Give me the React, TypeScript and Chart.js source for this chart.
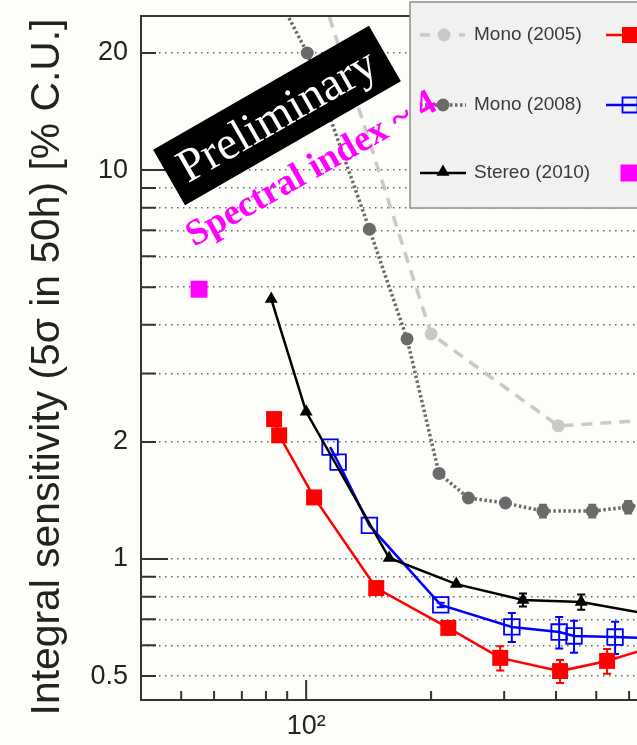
import React, { useEffect, useRef } from "react";
import { Chart, registerables } from "chart.js";

Chart.register(...registerables);

// ---------------- data (energy in GeV, sensitivity in % Crab units) ----------------
const mono2005Energy = [100, 200, 405, 790];
const mono2005Sens = [38, 3.79, 2.2, 2.3];

const mono2008Energy = [80, 100.6, 142, 175, 209, 246, 302, 372, 489, 597, 880];
const mono2008Sens = [32, 20.0, 7.05, 3.68, 1.66, 1.435, 1.393, 1.328, 1.328, 1.36, 1.48];
const mono2008Err = [0, 0, 0, 0, 0, 0, 0, 0.05, 0.05, 0.05, 0.05];

const stereo2010Energy = [82.4, 100, 158.5, 230, 333, 460, 790];
const stereo2010Sens = [4.66, 2.39, 1.006, 0.862, 0.785, 0.775, 0.7];
const stereo2010Err = [0, 0, 0, 0, 0.03, 0.035, 0.03];

const stereoRedEnergy = [83.7, 86.1, 104.5, 147.5, 220, 293.5, 409, 531, 880];
const stereoRedSens = [2.29, 2.08, 1.44, 0.842, 0.665, 0.557, 0.515, 0.547, 0.645];
const stereoRedErr = [0, 0, 0, 0, 0.015, 0.04, 0.035, 0.04, 0.04];

const stereoBlueEnergy = [114.2, 119.4, 142, 211, 313, 407, 442, 555, 840];
const stereoBlueSens = [1.94, 1.775, 1.22, 0.762, 0.669, 0.649, 0.634, 0.63, 0.62];
const stereoBlueErr = [0, 0, 0, 0.01, 0.057, 0.06, 0.06, 0.06, 0.06];

const sumTriggerEnergy = [55.2];
const sumTriggerSens = [4.94];

const yTickValues = [0.5, 0.6, 0.7, 0.8, 0.9, 1, 2, 3, 4, 5, 6, 7, 8, 9, 10, 20];
const yLabelValues = [0.5, 1, 2, 10, 20];
const xTickValues = [50, 60, 70, 80, 90, 100, 200, 300, 400, 500, 600];

const yTitle = "Integral sensitivity (5σ in 50h) [% C.U.]";
const prelimText = "Preliminary";
const spectralText = "Spectral index ~ 4";

const SANS = "'Liberation Sans', Arial, Helvetica, sans-serif";
const SERIF = "'Liberation Serif', 'Times New Roman', serif";

const mk = (xs: number[], ys: number[]) => xs.map((x, i) => ({ x, y: ys[i] }));

function drawMarker(ctx: CanvasRenderingContext2D, style: string, x: number, y: number, size: number, fill: string | null, stroke: string | null, lw: number) {
  ctx.save();
  ctx.setLineDash([]);
  ctx.beginPath();
  if (style === "circle") ctx.arc(x, y, size, 0, Math.PI * 2);
  else if (style === "triangle") {
    ctx.moveTo(x, y - size);
    ctx.lineTo(x + size * 0.866, y + size * 0.5);
    ctx.lineTo(x - size * 0.866, y + size * 0.5);
    ctx.closePath();
  } else ctx.rect(x - size, y - size, size * 2, size * 2);
  if (fill) {
    ctx.fillStyle = fill;
    ctx.fill();
  }
  if (stroke) {
    ctx.strokeStyle = stroke;
    ctx.lineWidth = lw;
    ctx.stroke();
  }
  ctx.restore();
}

const decorPlugin = {
  id: "decor",
  beforeDraw(chart: any) {
    const { ctx, width, height } = chart;
    ctx.save();
    ctx.fillStyle = "#fdfdfa";
    ctx.fillRect(0, 0, width, height);
    ctx.restore();
  },
  beforeDatasetsDraw(chart: any) {
    const { ctx, chartArea } = chart;
    const xs = chart.scales.x;
    const ys = chart.scales.y;
    ctx.save();
    ctx.beginPath();
    ctx.rect(chartArea.left, chartArea.top, chartArea.right - chartArea.left, chartArea.bottom - chartArea.top);
    ctx.clip();
    chart.data.datasets.forEach((ds: any) => {
      const errs = ds.errors as number[] | undefined;
      if (!errs) return;
      ctx.strokeStyle = ds.borderColor;
      ctx.lineWidth = 2;
      ctx.setLineDash([]);
      ds.data.forEach((p: any, j: number) => {
        const e = errs[j];
        if (!e) return;
        const x = xs.getPixelForValue(p.x);
        const y1 = ys.getPixelForValue(p.y + e);
        const y2 = ys.getPixelForValue(p.y - e);
        ctx.beginPath();
        ctx.moveTo(x, y1);
        ctx.lineTo(x, y2);
        ctx.moveTo(x - 4, y1);
        ctx.lineTo(x + 4, y1);
        ctx.moveTo(x - 4, y2);
        ctx.lineTo(x + 4, y2);
        ctx.stroke();
      });
    });
    ctx.restore();
  },
  afterDatasetsDraw(chart: any) {
    const { ctx, chartArea } = chart;
    const xs = chart.scales.x;
    const ys = chart.scales.y;
    const { left, right, top, bottom } = chartArea;

    // frame
    ctx.save();
    ctx.strokeStyle = "#333";
    ctx.lineWidth = 2;
    ctx.setLineDash([]);
    ctx.beginPath();
    ctx.moveTo(right + 2, top);
    ctx.lineTo(left, top);
    ctx.lineTo(left, bottom);
    ctx.lineTo(right + 2, bottom);
    ctx.stroke();
    // inside ticks
    ctx.beginPath();
    yTickValues.forEach((v) => {
      const y = ys.getPixelForValue(v);
      const len = v === 1 || v === 10 ? 27 : 15;
      ctx.moveTo(left, y);
      ctx.lineTo(left + len, y);
    });
    xTickValues.forEach((v) => {
      const x = xs.getPixelForValue(v);
      const len = v === 100 ? 20 : 9;
      ctx.moveTo(x, bottom);
      ctx.lineTo(x, bottom - len);
    });
    ctx.stroke();
    ctx.restore();

    // y title
    ctx.save();
    let fs = 40;
    ctx.font = `${fs}px ${SANS}`;
    fs = (fs * 697) / ctx.measureText(yTitle).width;
    ctx.font = `${fs}px ${SANS}`;
    ctx.translate(48, 367);
    ctx.rotate(-Math.PI / 2);
    ctx.fillStyle = "#222";
    ctx.textAlign = "center";
    ctx.textBaseline = "middle";
    ctx.fillText(yTitle, 0, 0);
    ctx.restore();

    // legend
    const ds = chart.data.datasets;
    ctx.save();
    ctx.fillStyle = "#f1f1f0";
    ctx.fillRect(410, 2, 320, 206);
    ctx.strokeStyle = "#8c8c8c";
    ctx.lineWidth = 1.5;
    ctx.strokeRect(410, 2, 320, 206);
    const rows = [35, 105, 173];
    ctx.font = `19px ${SANS}`;
    ctx.textBaseline = "middle";
    ctx.textAlign = "left";
    for (let i = 0; i < 3; i++) {
      ctx.fillStyle = "#3a3a3a";
      ctx.fillText(ds[i].label, 474, rows[i]);
    }
    // row 1 symbol: light grey dashed
    ctx.strokeStyle = ds[0].borderColor;
    ctx.lineWidth = 3.5;
    ctx.beginPath();
    ctx.moveTo(420, rows[0]);
    ctx.lineTo(430, rows[0]);
    ctx.moveTo(459, rows[0]);
    ctx.lineTo(465, rows[0]);
    ctx.stroke();
    drawMarker(ctx, "circle", 444, rows[0], 6.5, ds[0].backgroundColor, null, 0);
    // row 2: dotted dark grey
    ctx.strokeStyle = ds[1].borderColor;
    ctx.setLineDash([2.5, 2.5]);
    ctx.beginPath();
    ctx.moveTo(420, rows[1]);
    ctx.lineTo(466, rows[1]);
    ctx.stroke();
    ctx.setLineDash([]);
    drawMarker(ctx, "circle", 443, rows[1], 6.5, ds[1].backgroundColor, null, 0);
    // row 3: black triangle
    ctx.strokeStyle = ds[2].borderColor;
    ctx.lineWidth = 2.5;
    ctx.beginPath();
    ctx.moveTo(420, rows[2]);
    ctx.lineTo(466, rows[2]);
    ctx.stroke();
    drawMarker(ctx, "triangle", 443, rows[2] - 1, 7.5, ds[2].backgroundColor, null, 0);
    // column 2
    ctx.strokeStyle = ds[3].borderColor;
    ctx.lineWidth = 2.5;
    ctx.beginPath();
    ctx.moveTo(606, rows[0]);
    ctx.lineTo(625, rows[0]);
    ctx.stroke();
    drawMarker(ctx, "rect", 630, rows[0], 8, ds[3].backgroundColor, null, 0);
    ctx.strokeStyle = ds[4].borderColor;
    ctx.beginPath();
    ctx.moveTo(606, rows[1]);
    ctx.lineTo(640, rows[1]);
    ctx.stroke();
    drawMarker(ctx, "rect", 630, rows[1], 7.5, null, ds[4].borderColor, 1.8);
    drawMarker(ctx, "rect", 629, rows[2], 8.5, ds[5].backgroundColor, null, 0);
    ctx.restore();

    // Preliminary box
    ctx.save();
    ctx.translate(277, 115.5);
    ctx.rotate((-29.9 * Math.PI) / 180);
    ctx.fillStyle = "#000";
    ctx.fillRect(-124.5, -32, 249, 64);
    let pf = 48;
    ctx.font = `${pf}px ${SERIF}`;
    pf = (pf * 222) / ctx.measureText(prelimText).width;
    ctx.font = `${pf}px ${SERIF}`;
    ctx.fillStyle = "#fff";
    ctx.textAlign = "center";
    ctx.textBaseline = "middle";
    ctx.fillText(prelimText, 0, 2);
    ctx.restore();

    // Spectral index annotation
    ctx.save();
    ctx.translate(316.5, 178);
    ctx.rotate((-29.4 * Math.PI) / 180);
    let sf = 36;
    ctx.font = `bold ${sf}px ${SERIF}`;
    sf = (sf * 281) / ctx.measureText(spectralText).width;
    ctx.font = `bold ${sf}px ${SERIF}`;
    ctx.fillStyle = "#ff00ff";
    ctx.textAlign = "center";
    ctx.textBaseline = "alphabetic";
    ctx.fillText(spectralText, 0, 0);
    ctx.restore();
  },
};

export default function App() {
  const ref = useRef<HTMLCanvasElement>(null);
  useEffect(() => {
    document.body.style.margin = "0";
    const chart = new Chart(ref.current as HTMLCanvasElement, {
      type: "line",
      data: {
        datasets: [
          {
            label: "Mono (2005)",
            data: mk(mono2005Energy, mono2005Sens),
            borderColor: "#c9c9c9",
            backgroundColor: "#c9c9c9",
            borderWidth: 3.5,
            borderDash: [11, 8],
            pointStyle: "circle",
            pointRadius: 6.5,
            pointBorderWidth: 0,
            tension: 0,
          },
          {
            label: "Mono (2008)",
            data: mk(mono2008Energy, mono2008Sens),
            borderColor: "#6a6a6a",
            backgroundColor: "#6a6a6a",
            borderWidth: 3.5,
            borderDash: [2.5, 2.5],
            pointStyle: "circle",
            pointRadius: 6.5,
            pointBorderWidth: 0,
            tension: 0,
            errors: mono2008Err,
          } as any,
          {
            label: "Stereo (2010)",
            data: mk(stereo2010Energy, stereo2010Sens),
            borderColor: "#000000",
            backgroundColor: "#000000",
            borderWidth: 2.5,
            pointStyle: "triangle",
            pointRadius: 7.5,
            pointBorderWidth: 0,
            tension: 0,
            errors: stereo2010Err,
          } as any,
          {
            label: "Stereo (2013)",
            data: mk(stereoRedEnergy, stereoRedSens),
            borderColor: "#ff0000",
            backgroundColor: "#ff0000",
            borderWidth: 2.5,
            pointStyle: "rect",
            pointRadius: 11.3,
            pointBorderWidth: 0,
            tension: 0,
            errors: stereoRedErr,
          } as any,
          {
            label: "Stereo (2013, medium zd)",
            data: mk(stereoBlueEnergy, stereoBlueSens),
            borderColor: "#0000ff",
            backgroundColor: "rgba(0,0,0,0)",
            borderWidth: 2.5,
            pointStyle: "rect",
            pointRadius: 11,
            pointBorderWidth: 1.8,
            pointBorderColor: "#0000ff",
            tension: 0,
            errors: stereoBlueErr,
          } as any,
          {
            label: "Sum-Trigger",
            data: mk(sumTriggerEnergy, sumTriggerSens),
            borderColor: "#ff00ff",
            backgroundColor: "#ff00ff",
            showLine: false,
            pointStyle: "rect",
            pointRadius: 12,
            pointBorderWidth: 0,
          },
        ],
      },
      options: {
        responsive: false,
        animation: false,
        events: [],
        layout: { autoPadding: false, padding: { top: 16, right: 0, left: 0, bottom: 0 } },
        plugins: { legend: { display: false }, tooltip: { enabled: false }, title: { display: false } },
        scales: {
          x: {
            type: "logarithmic",
            min: 40,
            max: 626.8,
            afterFit: (s: any) => {
              s.height = 45;
              s.paddingLeft = 0;
              s.paddingRight = 0;
            },
            afterBuildTicks: (s: any) => {
              s.ticks = xTickValues.map((v) => ({ value: v }));
            },
            grid: { display: false, drawTicks: false },
            border: { display: false },
            ticks: {
              autoSkip: false,
              maxRotation: 0,
              padding: 0,
              color: "#222",
              font: { family: SANS, size: 27, lineHeight: 2 },
              callback: (v: any) => (Number(v) === 100 ? "10²" : ""),
            },
          },
          y: {
            type: "logarithmic",
            min: 0.434,
            max: 24.9,
            afterFit: (s: any) => {
              s.width = 141;
              s.paddingTop = 0;
              s.paddingBottom = 0;
            },
            afterBuildTicks: (s: any) => {
              s.ticks = yTickValues.map((v) => ({ value: v }));
            },
            grid: { color: "#666666", lineWidth: 1.5, drawTicks: false },
            border: { display: false, dash: [1.5, 4.5] },
            ticks: {
              autoSkip: false,
              padding: 13,
              color: "#222",
              font: { family: SANS, size: 27 },
              callback: (v: any) => (yLabelValues.includes(Number(v)) ? String(v) : ""),
            },
          },
        },
      } as any,
      plugins: [decorPlugin],
    });
    return () => chart.destroy();
  }, []);
  return (
    <div style={{ width: 637, height: 745 }}>
      <canvas ref={ref} width={637} height={745} />
    </div>
  );
}
